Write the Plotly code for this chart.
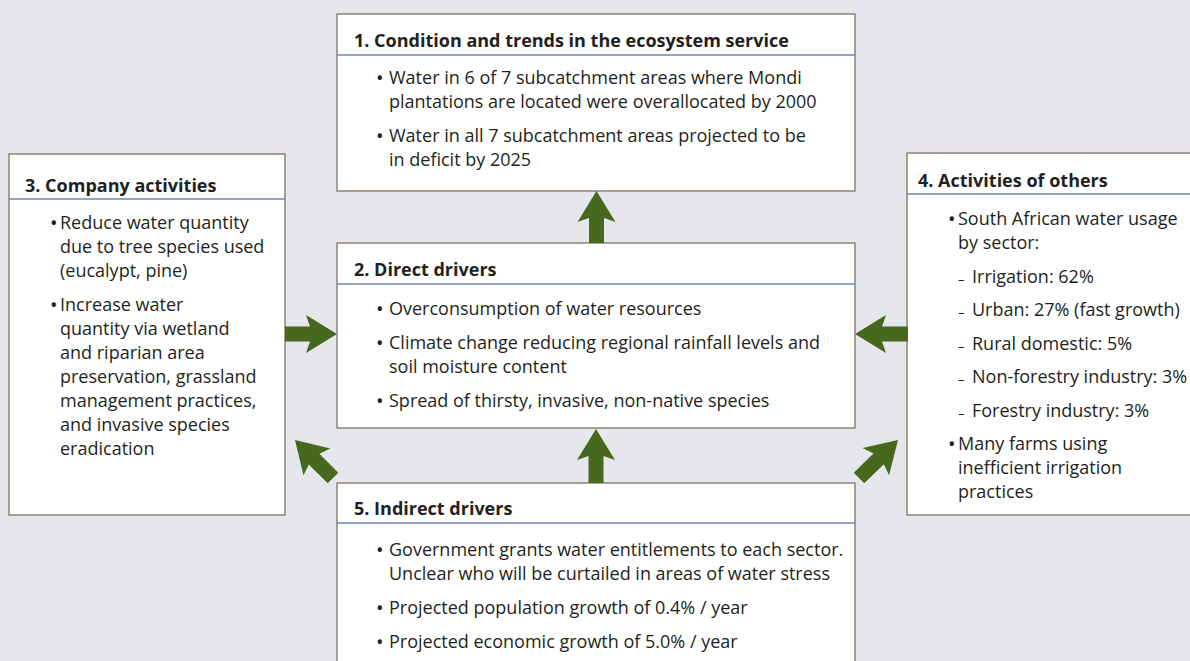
import math
import plotly.graph_objects as go

W, H = 1190, 661
BG = "#e5e7ed"
BORDER = "#8f8273"
SEP = "#6d87a6"
GREEN = "#46691d"
TEXT = "#231f20"
FONT = "Open Sans"
BODY_SIZE = 18
TITLE_SIZE = 18

# ---- content ----
titles = [
    "1. Condition and trends in the ecosystem service",
    "2. Direct drivers",
    "3. Company activities",
    "4. Activities of others",
    "5. Indirect drivers",
]
box1_items = [
    ("•", ["Water in 6 of 7 subcatchment areas where Mondi",
           "plantations are located were overallocated by 2000"]),
    ("•", ["Water in all 7 subcatchment areas projected to be",
           "in deficit by 2025"]),
]
box2_items = [
    ("•", ["Overconsumption of water resources"]),
    ("•", ["Climate change reducing regional rainfall levels and",
           "soil moisture content"]),
    ("•", ["Spread of thirsty, invasive, non-native species"]),
]
box3_items = [
    ("•", ["Reduce water quantity", "due to tree species used", "(eucalypt, pine)"]),
    ("•", ["Increase water", "quantity via wetland", "and riparian area",
           "preservation, grassland", "management practices,",
           "and invasive species", "eradication"]),
]
box4_items = [
    ("•", ["South African water usage", "by sector:"]),
    ("–", ["Irrigation: 62%"]),
    ("–", ["Urban: 27% (fast growth)"]),
    ("–", ["Rural domestic: 5%"]),
    ("–", ["Non-forestry industry: 3%"]),
    ("–", ["Forestry industry: 3%"]),
    ("•", ["Many farms using", "inefficient irrigation", "practices"]),
]
box5_items = [
    ("•", ["Government grants water entitlements to each sector.",
           "Unclear who will be curtailed in areas of water stress"]),
    ("•", ["Projected population growth of 0.4% / year"]),
    ("•", ["Projected economic growth of 5.0% / year"]),
]
contents = [box1_items, box2_items, box3_items, box4_items, box5_items]

# ---- layout geometry (pixels, y downward) ----
# x0, x1, y0, y1, title_x, title_y, sep_y, bullet_x, text_x, first_y, para_gap
geom = [
    (337, 855, 14, 191, 354, 40, 55, 376, 389, 77, 34),
    (337, 855, 243, 428, 354, 269, 284, 376, 389, 308, 34),
    (9, 285, 154, 515, 25, 185, 199, 50, 60, 222, 34),
    (907, 1200, 153, 515, 918, 180, 194, 948, 958, 218, 33.5),
    (337, 855, 483, 700, 354, 508, 523, 376, 389, 549, 34),
]
LINE_GAP = 24
DASH_TEXT_X = 972

# arrows: tail (x, y), tip (x, y)
arrows = [
    ((596.5, 243), (596.5, 191)),
    ((596, 483), (596, 429)),
    ((285, 334), (337, 334)),
    ((908, 334), (855, 334)),
    ((333, 478), (295, 440)),
    ((859, 478), (898, 440)),
]
SHAFT_W = 15
HEAD_W = 38
HEAD_L = 31
NOTCH = 4

fig = go.Figure()
shapes = []
annotations = []


def label(x, y, text, size, yshift=0):
    return dict(x=x, y=y, text=text, showarrow=False, xanchor="left", yanchor="middle",
                yshift=yshift, borderpad=0, borderwidth=0,
                font=dict(family=FONT, size=size, color=TEXT))


for (x0, x1, y0, y1, tx, ty, sy, bx, txx, fy, pgap), title, items in zip(geom, titles, contents):
    shapes.append(dict(type="rect", x0=x0, x1=x1, y0=y0, y1=y1,
                       line=dict(color=BORDER, width=1.5), fillcolor="white", layer="below"))
    shapes.append(dict(type="line", x0=x0, x1=x1, y0=sy, y1=sy,
                       line=dict(color=SEP, width=1.3)))
    annotations.append(label(tx, ty, "<b>" + title + "</b>", TITLE_SIZE))
    y = fy
    for mark, lines in items:
        if mark == "•":
            annotations.append(label(bx, y, mark, 20))
            lx = txx
        else:
            annotations.append(label(txx, y, mark, 13, yshift=-3))
            lx = DASH_TEXT_X
        for i, ln in enumerate(lines):
            annotations.append(label(lx, y, ln, BODY_SIZE))
            if i < len(lines) - 1:
                y += LINE_GAP
        y += pgap

for (tx0, ty0), (tx1, ty1) in arrows:
    dx, dy = tx1 - tx0, ty1 - ty0
    L = math.hypot(dx, dy)
    ux, uy = dx / L, dy / L
    px, py = -uy, ux
    hb = L - HEAD_L

    def P(a, b):
        return (tx0 + ux * a + px * b, ty0 + uy * a + py * b)

    pts = [P(0, -SHAFT_W / 2), P(hb + NOTCH, -SHAFT_W / 2), P(hb, -HEAD_W / 2),
           P(L, 0), P(hb, HEAD_W / 2), P(hb + NOTCH, SHAFT_W / 2), P(0, SHAFT_W / 2)]
    path = "M " + " L ".join(f"{a:.2f},{b:.2f}" for a, b in pts) + " Z"
    shapes.append(dict(type="path", path=path, fillcolor=GREEN, line=dict(width=0)))

fig.update_layout(
    width=W, height=H,
    margin=dict(l=0, r=0, t=0, b=0),
    paper_bgcolor=BG, plot_bgcolor=BG,
    xaxis=dict(range=[0, W], visible=False, fixedrange=True),
    yaxis=dict(range=[H, 0], visible=False, fixedrange=True),
    shapes=shapes, annotations=annotations,
    showlegend=False,
)
fig.write_html("out.html", config={"displayModeBar": False},
               post_script="document.body.style.margin='0';document.body.style.background='%s';" % BG)
